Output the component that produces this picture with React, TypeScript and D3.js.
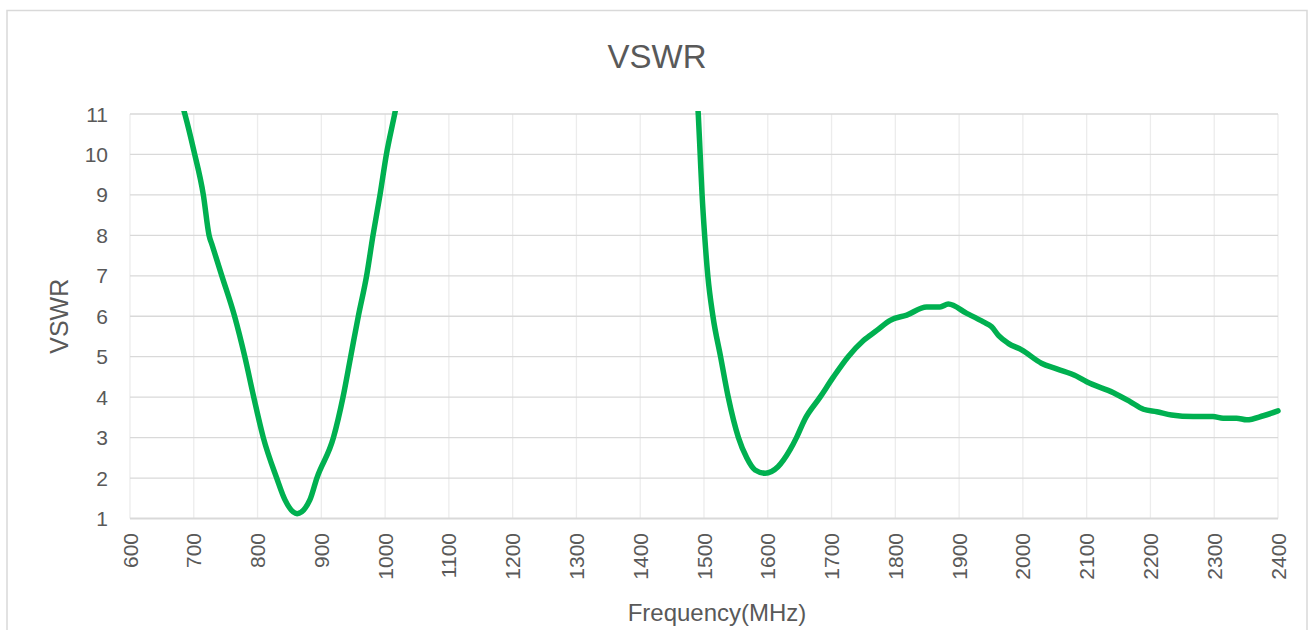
import { useRef, useEffect } from 'react';
import * as d3 from 'd3';

// values
const lowBandFreq = [675, 686, 700, 715, 724, 729, 744, 764, 780, 794, 809, 830, 843, 862, 882, 893, 919, 934, 946, 958, 971, 981, 992, 1002, 1015, 1025];
const lowBandVswr = [11.6, 11, 10.1, 9, 8, 7.75, 7, 6, 5, 4, 3, 2, 1.46, 1.12, 1.46, 2, 3, 4, 5, 6, 7, 8, 9, 10, 11, 11.8];

const highBandFreq = [1485, 1491, 1494, 1497, 1501, 1506, 1514, 1526, 1538, 1554, 1567, 1580, 1596, 1616, 1635, 1645, 1658, 1682, 1703, 1726, 1750, 1771, 1792, 1818, 1849, 1870, 1883, 1912, 1938, 1951, 1962, 1977, 1998, 2029, 2053, 2084, 2100, 2142, 2168, 2189, 2210, 2233, 2267, 2298, 2314, 2335, 2351, 2377, 2400];
const highBandVswr = [11.8, 11, 10, 9, 8, 7, 6, 5, 4, 3, 2.5, 2.2, 2.12, 2.28, 2.7, 3, 3.45, 4, 4.5, 5, 5.4, 5.65, 5.9, 6.03, 6.23, 6.23, 6.3, 6.07, 5.86, 5.74, 5.52, 5.33, 5.17, 4.84, 4.7, 4.52, 4.38, 4.11, 3.89, 3.7, 3.64, 3.56, 3.52, 3.52, 3.48, 3.48, 3.44, 3.54, 3.66];

const xTicks = [600, 700, 800, 900, 1000, 1100, 1200, 1300, 1400, 1500, 1600, 1700, 1800, 1900, 2000, 2100, 2200, 2300, 2400];
const yTicks = [1, 2, 3, 4, 5, 6, 7, 8, 9, 10, 11];

const W = 1309;
const H = 630;
const left = 130;
const right = 1278;
const top = 114;
const bottom = 518.5;
const font = '"Liberation Sans", Arial, sans-serif';
const textColor = '#595959';

export default function App() {
  const svgRef = useRef<SVGSVGElement>(null);

  useEffect(() => {
    const svg = d3.select(svgRef.current);
    svg.selectAll('*').remove();

    const x = d3.scaleLinear().domain([600, 2400]).range([left, right]);
    const y = d3.scaleLinear().domain([1, 11]).range([bottom, top]);

    // chart frame
    svg.append('rect')
      .attr('x', 7).attr('y', 10.5)
      .attr('width', 1300).attr('height', 700)
      .attr('fill', '#fff').attr('stroke', '#d9d9d9').attr('stroke-width', 1.5);

    // vertical grid
    svg.append('g').selectAll('line').data(xTicks).join('line')
      .attr('x1', (d) => x(d)).attr('x2', (d) => x(d))
      .attr('y1', top).attr('y2', bottom)
      .attr('stroke', '#ececec').attr('stroke-width', 1.3);

    // horizontal grid
    svg.append('g').selectAll('line').data(yTicks).join('line')
      .attr('x1', left).attr('x2', right)
      .attr('y1', (d) => y(d)).attr('y2', (d) => y(d))
      .attr('stroke', '#d9d9d9').attr('stroke-width', (d) => (d === 1 ? 1.8 : 1.3));

    // y tick labels
    svg.append('g').selectAll('text').data(yTicks).join('text')
      .attr('x', 108).attr('y', (d) => y(d))
      .attr('dy', '0.36em')
      .attr('text-anchor', 'end')
      .attr('font-family', font).attr('font-size', 21)
      .attr('fill', textColor)
      .text((d) => d);

    // x tick labels, rotated
    svg.append('g').selectAll('text').data(xTicks).join('text')
      .attr('transform', (d) => `translate(${x(d)},533) rotate(-90)`)
      .attr('dy', '0.36em')
      .attr('text-anchor', 'end')
      .attr('font-family', font).attr('font-size', 21)
      .attr('fill', textColor)
      .text((d) => d);

    svg.append('clipPath').attr('id', 'plot-clip')
      .append('rect')
      .attr('x', left).attr('y', top - 3)
      .attr('width', right - left + 4).attr('height', bottom - top + 6);

    const line = d3.line<[number, number]>()
      .x((d) => x(d[0]))
      .y((d) => y(d[1]))
      .curve(d3.curveMonotoneX);

    const bands: [number[], number[]][] = [
      [lowBandFreq, lowBandVswr],
      [highBandFreq, highBandVswr],
    ];

    svg.append('g').attr('clip-path', 'url(#plot-clip)')
      .selectAll('path').data(bands).join('path')
      .attr('d', ([f, v]) => line(f.map((fr, i) => [fr, v[i]] as [number, number])))
      .attr('fill', 'none')
      .attr('stroke', '#00b050')
      .attr('stroke-width', 5.5)
      .attr('stroke-linejoin', 'round')
      .attr('stroke-linecap', 'round');

    // titles
    svg.append('text')
      .attr('x', 657).attr('y', 68)
      .attr('text-anchor', 'middle')
      .attr('font-family', font).attr('font-size', 33)
      .attr('fill', textColor)
      .text('VSWR');

    svg.append('text')
      .attr('transform', `translate(68,${(top + bottom) / 2}) rotate(-90)`)
      .attr('text-anchor', 'middle')
      .attr('font-family', font).attr('font-size', 25)
      .attr('fill', textColor)
      .text('VSWR');

    svg.append('text')
      .attr('x', 717).attr('y', 621)
      .attr('text-anchor', 'middle')
      .attr('font-family', font).attr('font-size', 24)
      .attr('fill', textColor)
      .text('Frequency(MHz)');
  }, []);

  return (
    <svg
      ref={svgRef}
      width={W}
      height={H}
      style={{ position: 'absolute', left: 0, top: 0, background: '#fff' }}
    />
  );
}
